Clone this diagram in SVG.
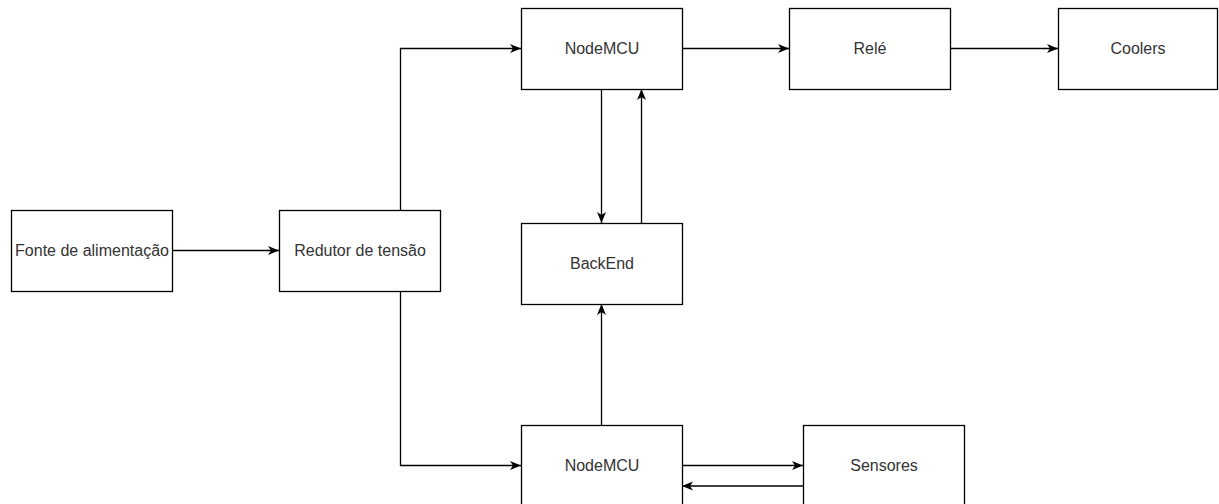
<svg xmlns="http://www.w3.org/2000/svg" width="1219" height="504" viewBox="0 0 1219 504">
<style>
.box{fill:#fff;stroke:#000;stroke-width:1.3}
.lbl{font-family:"Liberation Sans",Arial,sans-serif;font-size:16px;fill:#333;text-anchor:middle}
.edge{fill:none;stroke:#000;stroke-width:1.3;marker-end:url(#arr)}
</style>
<defs>
<marker id="arr" viewBox="0 0 11 10" refX="11" refY="5" markerWidth="11" markerHeight="10" markerUnits="userSpaceOnUse" orient="auto">
<path d="M0,0.5 L11,5 L0,9.5 L3,5 Z" fill="#000"/>
</marker>
</defs>
<rect width="1219" height="504" fill="#fff"/>
<g id="connectors">
<path class="edge" d="M172,250.5 H279"/>
<path class="edge" d="M400.5,210 V48.5 H521"/>
<path class="edge" d="M400.5,291 V465.5 H521"/>
<path class="edge" d="M601.5,89 V223"/>
<path class="edge" d="M641.5,223 V89"/>
<path class="edge" d="M601.5,425 V304"/>
<path class="edge" d="M682,48.5 H789"/>
<path class="edge" d="M950,48.5 H1058"/>
<path class="edge" d="M682,465.5 H803"/>
<path class="edge" d="M803,486 H682"/>
</g>
<g id="fonte"><rect class="box" x="11.5" y="210.5" width="161" height="81"/><text class="lbl" x="92" y="256">Fonte de alimentação</text></g>
<g id="redutor"><rect class="box" x="279.5" y="210.5" width="161" height="81"/><text class="lbl" x="360" y="256">Redutor de tensão</text></g>
<g id="nodemcu1"><rect class="box" x="521.5" y="8.5" width="161" height="81"/><text class="lbl" x="602" y="54">NodeMCU</text></g>
<g id="backend"><rect class="box" x="521.5" y="223.5" width="161" height="81"/><text class="lbl" x="602" y="269">BackEnd</text></g>
<g id="nodemcu2"><rect class="box" x="521.5" y="425.5" width="161" height="81"/><text class="lbl" x="602" y="471">NodeMCU</text></g>
<g id="rele"><rect class="box" x="789.5" y="8.5" width="161" height="81"/><text class="lbl" x="870" y="54">Relé</text></g>
<g id="coolers"><rect class="box" x="1058.5" y="8.5" width="159" height="81"/><text class="lbl" x="1138" y="54">Coolers</text></g>
<g id="sensores"><rect class="box" x="803.5" y="425.5" width="161" height="81"/><text class="lbl" x="884" y="471">Sensores</text></g>
</svg>
